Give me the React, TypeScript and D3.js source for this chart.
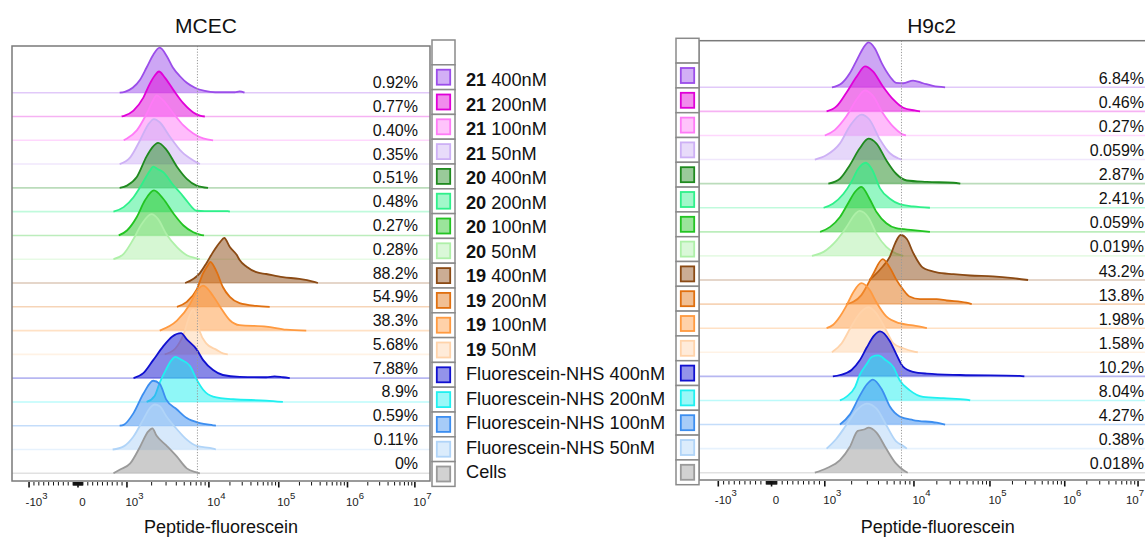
import React from "react";
import * as d3 from "d3";

// ---------- data ----------
const legendBold = ["21", "21", "21", "21", "20", "20", "20", "20", "19", "19", "19", "19", "", "", "", "", ""];
const legendText = [
  "400nM", "200nM", "100nM", "50nM",
  "400nM", "200nM", "100nM", "50nM",
  "400nM", "200nM", "100nM", "50nM",
  "Fluorescein-NHS 400nM", "Fluorescein-NHS 200nM", "Fluorescein-NHS 100nM", "Fluorescein-NHS 50nM",
  "Cells",
];
const seriesColors = [
  "#9b4dea", "#e000d8", "#ff7af7", "#cdb0f5",
  "#1e8a1e", "#2ef08a", "#22c422", "#aef0a8",
  "#8b4a14", "#e07010", "#ff9a40", "#ffd3aa",
  "#1010d0", "#20f0f0", "#3c8ef0", "#b0d4f8",
  "#9a9a9a",
];
const mcecPercent = ["0.92%", "0.77%", "0.40%", "0.35%", "0.51%", "0.48%", "0.27%", "0.28%", "88.2%", "54.9%", "38.3%", "5.68%", "7.88%", "8.9%", "0.59%", "0.11%", "0%"];
const h9c2Percent = ["6.84%", "0.46%", "0.27%", "0.059%", "2.87%", "2.41%", "0.059%", "0.019%", "43.2%", "13.8%", "1.98%", "1.58%", "10.2%", "8.04%", "4.27%", "0.38%", "0.018%"];

// [log10 fluorescence, % of mode]
const mcecHist: number[][][] = [
  [[2.93,0],[2.98,2],[3.07,11],[3.16,29],[3.24,56],[3.32,84],[3.40,100],[3.49,80],[3.56,56],[3.65,36],[3.73,22],[3.83,11],[3.95,4],[4.09,1],[4.37,1],[4.44,3],[4.51,0]],
  [[2.95,0],[2.98,2],[3.08,13],[3.20,42],[3.28,73],[3.34,91],[3.39,100],[3.46,87],[3.57,58],[3.69,29],[3.81,9],[3.89,2],[3.95,0]],
  [[2.97,0],[3.00,4],[3.12,22],[3.24,59],[3.32,89],[3.36,100],[3.44,89],[3.57,59],[3.69,33],[3.81,15],[3.93,4],[4.06,0]],
  [[2.93,0],[3.04,15],[3.16,53],[3.26,88],[3.33,100],[3.40,93],[3.52,62],[3.67,27],[3.81,8],[3.89,0]],
  [[2.93,0],[3.00,5],[3.12,24],[3.24,70],[3.31,90],[3.38,100],[3.48,85],[3.61,47],[3.73,20],[3.85,5],[3.99,0]],
  [[2.86,0],[2.97,10],[3.08,32],[3.16,54],[3.28,91],[3.32,100],[3.38,94],[3.44,88],[3.57,58],[3.65,42],[3.73,24],[3.85,2],[3.95,1],[4.27,1],[4.30,0]],
  [[2.92,0],[3.00,11],[3.12,41],[3.22,78],[3.33,100],[3.44,82],[3.57,48],[3.69,22],[3.81,7],[3.89,2],[3.94,0]],
  [[2.86,0],[2.97,12],[3.08,45],[3.18,78],[3.30,100],[3.38,89],[3.48,56],[3.61,27],[3.73,9],[3.85,2],[3.89,0]],
  [[3.71,0],[3.89,22],[3.97,44],[4.06,69],[4.16,91],[4.22,100],[4.30,80],[4.40,62],[4.44,51],[4.54,36],[4.68,24],[4.82,20],[5.06,13],[5.30,9],[5.50,3],[5.57,0]],
  [[3.61,0],[3.73,11],[3.85,38],[3.93,75],[3.99,93],[4.02,100],[4.11,78],[4.20,44],[4.30,22],[4.44,8],[4.68,2],[4.87,0]],
  [[3.40,0],[3.61,22],[3.77,59],[3.85,87],[3.93,100],[4.06,77],[4.16,53],[4.30,23],[4.44,12],[4.82,9],[5.11,2],[5.40,0]],
  [[3.46,0],[3.59,13],[3.70,49],[3.76,84],[3.81,100],[3.85,80],[3.89,50],[3.97,24],[4.11,10],[4.20,2],[4.27,0]],
  [[3.08,0],[3.20,11],[3.32,40],[3.44,70],[3.55,92],[3.66,100],[3.73,86],[3.85,64],[3.93,40],[4.06,18],[4.20,7],[4.44,3],[4.82,2],[4.94,4],[5.06,2],[5.16,0]],
  [[3.24,0],[3.34,14],[3.40,43],[3.48,73],[3.54,92],[3.59,100],[3.66,94],[3.77,80],[3.85,50],[3.93,27],[4.06,12],[4.35,6],[4.82,3],[5.06,0]],
  [[2.93,0],[2.97,2],[3.08,28],[3.20,71],[3.32,100],[3.40,93],[3.48,58],[3.61,36],[3.73,17],[3.89,6],[4.06,1],[4.10,0]],
  [[2.85,0],[2.97,7],[3.08,29],[3.20,67],[3.28,92],[3.34,100],[3.40,96],[3.48,74],[3.61,45],[3.73,22],[3.85,8],[4.06,2],[4.10,0]],
  [[2.86,0],[2.93,8],[3.04,22],[3.16,59],[3.26,93],[3.31,100],[3.36,84],[3.48,62],[3.61,37],[3.73,11],[3.85,2],[3.89,0]],
];

const h9c2Hist: number[][][] = [
  [[3.08,0],[3.19,9],[3.28,31],[3.36,61],[3.43,87],[3.49,100],[3.56,87],[3.64,53],[3.73,24],[3.80,10],[3.88,9],[3.99,15],[4.12,9],[4.25,3],[4.41,0]],
  [[3.02,0],[3.13,11],[3.24,41],[3.36,78],[3.45,100],[3.54,89],[3.65,56],[3.77,26],[3.88,8],[4.01,2],[4.08,0]],
  [[3.00,0],[3.11,12],[3.24,42],[3.36,81],[3.45,100],[3.54,88],[3.65,50],[3.77,19],[3.86,4],[3.91,0]],
  [[2.91,0],[3.02,10],[3.17,36],[3.28,74],[3.41,100],[3.50,89],[3.62,44],[3.73,14],[3.82,3],[3.86,0]],
  [[3.04,0],[3.17,11],[3.28,41],[3.39,78],[3.49,100],[3.58,89],[3.69,52],[3.80,22],[3.92,7],[4.17,4],[4.52,2],[4.61,0]],
  [[2.99,0],[3.09,9],[3.21,31],[3.30,58],[3.37,85],[3.46,100],[3.53,85],[3.62,43],[3.73,20],[3.84,8],[3.99,3],[4.21,0]],
  [[2.96,0],[3.06,11],[3.17,33],[3.26,63],[3.34,89],[3.41,100],[3.50,74],[3.58,44],[3.69,19],[3.80,8],[3.99,4],[4.21,0]],
  [[2.88,0],[2.99,9],[3.13,34],[3.24,63],[3.34,93],[3.39,100],[3.49,85],[3.58,49],[3.69,20],[3.80,5],[3.88,0]],
  [[3.50,0],[3.54,7],[3.65,30],[3.73,52],[3.79,82],[3.85,100],[3.92,91],[3.99,61],[4.12,27],[4.30,17],[4.52,13],[4.74,10],[5.04,8],[5.31,4],[5.51,0]],
  [[3.24,0],[3.32,5],[3.41,20],[3.49,47],[3.54,66],[3.65,100],[3.73,81],[3.80,55],[3.88,32],[3.95,17],[4.08,11],[4.30,11],[4.43,8],[4.69,3],[4.76,0]],
  [[3.02,0],[3.09,7],[3.17,26],[3.24,49],[3.32,80],[3.41,100],[3.50,86],[3.58,57],[3.69,26],[3.84,11],[3.99,6],[4.17,0]],
  [[3.08,0],[3.19,20],[3.29,55],[3.39,86],[3.49,100],[3.58,86],[3.69,48],[3.77,20],[3.88,9],[3.99,2],[4.05,0]],
  [[3.09,0],[3.17,3],[3.30,14],[3.39,35],[3.47,64],[3.55,90],[3.62,100],[3.73,78],[3.80,50],[3.88,21],[3.99,10],[4.17,6],[4.61,3],[5.40,1],[5.46,0]],
  [[3.17,0],[3.24,8],[3.34,30],[3.39,56],[3.47,81],[3.53,97],[3.60,100],[3.68,90],[3.77,74],[3.84,45],[3.95,23],[4.12,8],[4.39,5],[4.69,2],[4.74,0]],
  [[3.17,0],[3.28,22],[3.39,63],[3.47,89],[3.54,100],[3.64,78],[3.73,40],[3.84,18],[3.99,10],[4.30,4],[4.41,0]],
  [[3.02,0],[3.13,22],[3.24,52],[3.36,86],[3.47,100],[3.58,89],[3.69,52],[3.80,16],[3.88,6],[3.92,0]],
  [[2.91,0],[3.02,10],[3.17,28],[3.28,57],[3.37,93],[3.44,96],[3.49,100],[3.58,89],[3.69,53],[3.80,20],[3.88,6],[3.93,0]],
];

const tickValues = [-1000, 0, 1000, 1e4, 1e5, 1e6, 1e7];
const tickBase = ["-10", "0", "10", "10", "10", "10", "10"];
const tickExp = ["3", "", "3", "4", "5", "6", "7"];
const gateLog = 3.86;
const panelTitles = ["MCEC", "H9c2"];
const axisTitle = "Peptide-fluorescein";

// ---------- biexponential-like display transform ----------
const logSeg = d3.scaleLinear().domain([3, 4, 5, 6, 7]).range([0.712, 1.904, 2.92, 3.92, 4.9]);
const T = (v: number) =>
  Math.abs(v) <= 1000 ? (0.712 * v) / 1000 : Math.sign(v) * logSeg(Math.log10(Math.abs(v)));

const minorTicks: number[] = [];
for (let v = -900; v <= -100; v += 100) minorTicks.push(v);
for (let v = -90; v <= 90; v += 10) if (v !== 0) minorTicks.push(v);
for (let v = 100; v <= 900; v += 100) minorTicks.push(v);
for (let k = 3; k <= 6; k++) for (let m = 2; m <= 9; m++) minorTicks.push(m * Math.pow(10, k));

const FONT = "'Liberation Sans', Arial, Helvetica, sans-serif";
const W = 1145;

type Cfg = {
  x0: number; x1: number; domain: [number, number]; top: number; bottom: number;
  rowTop: number; rowBottom: number; legendX: number; legendTop: number;
  titleX: number; axisTitleX: number; pctX: number; pctDy: number; labelDy: number; id: string;
};

const cfgs: Cfg[] = [
  { id: "a", x0: 12, x1: 430, domain: [-0.96, 5.12], top: 46, bottom: 481, rowTop: 92.7, rowBottom: 473.3,
    legendX: 432, legendTop: 40, titleX: 206, axisTitleX: 221, pctX: 418, pctDy: -4.5, labelDy: 25 },
  { id: "b", x0: 699, x1: 1154.5, domain: [-0.97, 5.12], top: 40.7, bottom: 480, rowTop: 87.3, rowBottom: 472.7,
    legendX: 676, legendTop: 38.3, titleX: 931.7, axisTitleX: 937.7, pctX: 1144, pctDy: -3.5, labelDy: 23.5 },
];

function Panel({ cfg, hist, pct, title, showLabels }: { cfg: Cfg; hist: number[][][]; pct: string[]; title: string; showLabels: boolean }) {
  const xs = d3.scaleLinear().domain(cfg.domain).range([cfg.x0, cfg.x1]);
  const X = (v: number) => xs(T(v));
  const ys = d3.scaleLinear().domain([0, 16]).range([cfg.rowTop, cfg.rowBottom]);
  const hs = d3.scaleLinear().domain([0, 100]).range([0, 45]);
  const cellH = 24.8;
  const textY = d3.scaleLinear().domain([0, 16]).range([86, 478.3]);

  return (
    <g>
      <text x={cfg.titleX} y={32.5} textAnchor="middle" fontSize={21} fontFamily={FONT} fill="#111">{title}</text>
      <defs>
        <clipPath id={"clip" + cfg.id}>
          <rect x={cfg.x0} y={cfg.top} width={cfg.x1 - cfg.x0} height={cfg.bottom - cfg.top} />
        </clipPath>
      </defs>
      <rect x={cfg.x0} y={cfg.top} width={cfg.x1 - cfg.x0} height={cfg.bottom - cfg.top} fill="#fff" />
      <g clipPath={`url(#clip${cfg.id})`}>
        {hist.map((pts, i) => {
          const base = ys(i);
          const area = d3.area<number[]>()
            .x((d) => X(Math.pow(10, d[0])))
            .y0(base)
            .y1((d) => base - hs(d[1]))
            .curve(d3.curveMonotoneX);
          const line = d3.line<number[]>()
            .x((d) => X(Math.pow(10, d[0])))
            .y((d) => base - hs(d[1]))
            .curve(d3.curveMonotoneX);
          const c = seriesColors[i];
          return (
            <g key={i}>
              <line x1={cfg.x0} x2={cfg.x1} y1={base} y2={base} stroke={c} strokeOpacity={0.3} strokeWidth={1.6} />
              <path d={area(pts) || ""} fill={c} fillOpacity={0.5} stroke="none" />
              <path d={line(pts) || ""} fill="none" stroke={c} strokeWidth={1.8} strokeLinejoin="round" />
            </g>
          );
        })}
        <line x1={X(Math.pow(10, gateLog))} x2={X(Math.pow(10, gateLog))} y1={cfg.top} y2={cfg.bottom - 3}
          stroke="#9a9a9a" strokeWidth={1} strokeDasharray="1.2,1.6" />
        {pct.map((p, i) => (
          <text key={i} x={cfg.pctX} y={ys(i) + cfg.pctDy} textAnchor="end" fontSize={16} fontFamily={FONT} fill="#111">{p}</text>
        ))}
      </g>
      <rect x={cfg.x0} y={cfg.top} width={cfg.x1 - cfg.x0} height={cfg.bottom - cfg.top} fill="none" stroke="#7a7a7a" strokeWidth={1.5} />
      {/* ticks */}
      {minorTicks.map((v, i) => (
        <line key={"m" + i} x1={X(v)} x2={X(v)} y1={cfg.bottom + 1} y2={cfg.bottom + 4.5} stroke="#111" strokeWidth={1} />
      ))}
      {tickValues.map((v, i) => (
        <line key={"M" + i} x1={X(v)} x2={X(v)} y1={cfg.bottom + 1} y2={cfg.bottom + 6.5} stroke="#111" strokeWidth={1.6} />
      ))}
      {tickValues.map((v, i) => {
        const cx = Math.min(X(v) + (tickExp[i] ? 7.5 : 4.5), W - 10);
        return (
          <text key={"L" + i} x={cx} y={cfg.bottom + cfg.labelDy} textAnchor="middle"
            fontFamily={FONT} fontSize={11.5} fill="#222">
            <tspan>{tickBase[i]}</tspan>
            {tickExp[i] ? <tspan fontSize={9.5} dy={-7.5}>{tickExp[i]}</tspan> : null}
          </text>
        );
      })}
      <text x={cfg.axisTitleX} y={533} textAnchor="middle" fontSize={18} fontFamily={FONT} fill="#111">{axisTitle}</text>
      {/* legend column */}
      {d3.range(18).map((k) => (
        <rect key={"c" + k} x={cfg.legendX} y={cfg.legendTop + k * cellH} width={23} height={cellH}
          fill="#fff" stroke="#8a8a8a" strokeWidth={1.5} />
      ))}
      {seriesColors.map((c, i) => (
        <rect key={"s" + i} x={cfg.legendX + 4.8} y={cfg.legendTop + (i + 1) * cellH + 4.9} width={13.4} height={15}
          fill={c} fillOpacity={0.45} stroke={c} strokeWidth={1.8} />
      ))}
      {showLabels &&
        legendText.map((t, i) => (
          <text key={"t" + i} x={cfg.legendX + 34} y={textY(i)} fontSize={18.2} fontFamily={FONT} fill="#111">
            {legendBold[i] ? <tspan fontWeight="bold">{legendBold[i]}</tspan> : null}
            <tspan dx={legendBold[i] ? 5 : 0}>{t}</tspan>
          </text>
        ))}
    </g>
  );
}

export default function App() {
  return (
    <svg width={W} height={538} style={{ position: "absolute", left: 0, top: 0, background: "#fff" }}>
      <rect x={0} y={0} width={W} height={538} fill="#fff" />
      <Panel cfg={cfgs[0]} hist={mcecHist} pct={mcecPercent} title={panelTitles[0]} showLabels={true} />
      <Panel cfg={cfgs[1]} hist={h9c2Hist} pct={h9c2Percent} title={panelTitles[1]} showLabels={false} />
    </svg>
  );
}
